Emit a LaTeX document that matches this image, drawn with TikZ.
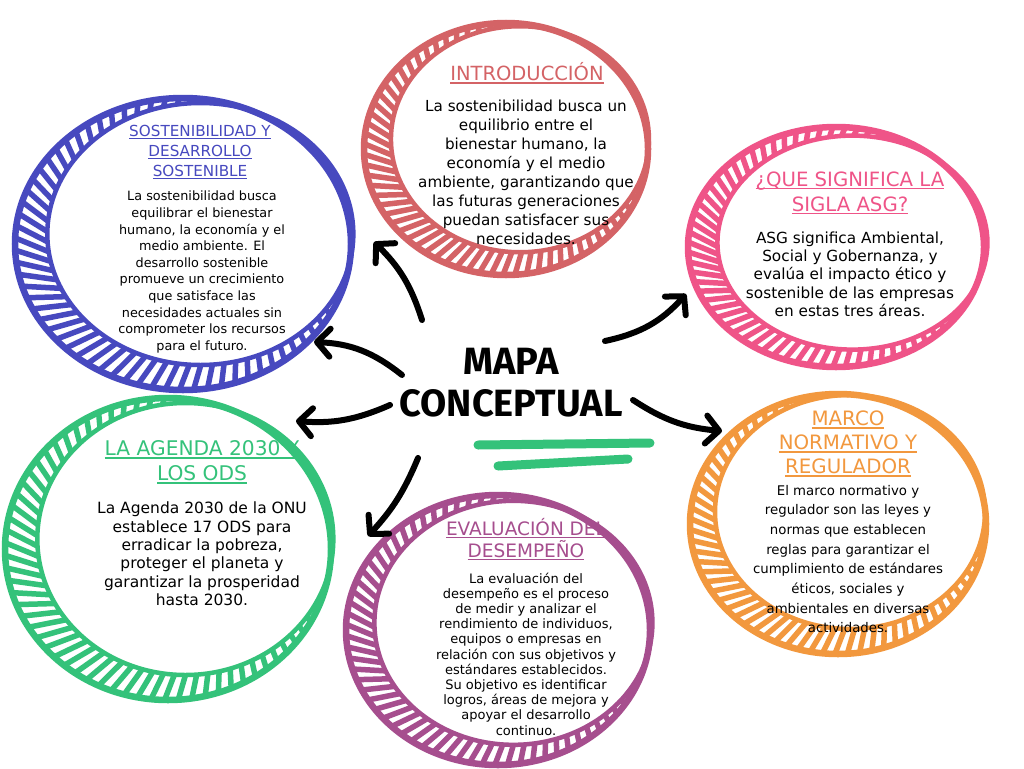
\documentclass[tikz,border=0pt]{standalone}
\usepackage{fontspec}
\setmainfont{DejaVu Sans}
\newfontfamily\titlefont{DejaVu Sans}
\newfontfamily\centerfont{Fira Sans}
\usetikzlibrary{arrows.meta,calc}
\definecolor{cblue}{HTML}{4749BF}
\definecolor{cred}{HTML}{D46366}
\definecolor{cpink}{HTML}{EF5488}
\definecolor{corange}{HTML}{F2983E}
\definecolor{cgreen}{HTML}{34C27A}
\definecolor{cpurple}{HTML}{A64E8E}
\newlength\tulw
\newcommand\tul[1]{\leavevmode\settowidth\tulw{#1}\rlap{#1}\raisebox{-3pt}{\rule{\tulw}{1.4pt}}}
% #1 colour, #2 #3 outer centre, #4 #5 outer radii, #6 shift direction (visual angle), #7 shift, #8 radius reduction
\newcommand\ring[8]{%
 \pgfmathsetmacro\rgcx{#2+#7*cos(#6)}%
 \pgfmathsetmacro\rgcy{#3-#7*sin(#6)}%
 \pgfmathsetmacro\rgrx{#4-#8}%
 \pgfmathsetmacro\rgry{#5-#8}%
 \begin{scope}
  \clip (#2,#3) ellipse [x radius=#4, y radius=#5];
  \foreach \a in {0,4.8,...,356}{
    \draw[#1, line width=5.5] ($(#2,#3)+({#4*cos(\a)},{#5*sin(\a)})$) ++(\a+200:70) -- ++(\a+20:100);
  }
 \end{scope}
 \fill[white] (\rgcx,\rgcy) ellipse [x radius=\rgrx, y radius=\rgry];
 \draw[#1, line width=6.5] (#2,#3) ellipse [x radius=#4, y radius=#5];
 \draw[#1, line width=4.5] (\rgcx,\rgcy) ellipse [x radius=\rgrx, y radius=\rgry];
}
\tikzset{
  ttl/.style={align=center, inner sep=0pt},
  bodytxt/.style={align=center, inner sep=0pt, text=black},
  arr/.style={line width=6, line cap=round, black,
    -{Straight Barb[length=13pt, width=28pt, round]}},
  hl/.style={cgreen, line width=9, line cap=round}
}
\begin{document}
\begin{tikzpicture}[x=1pt, y=-1pt]
\useasboundingbox (0,0) rectangle (1024,768);
\fill[white] (0,0) rectangle (1024,768);

% rings
\ring{cblue}{183}{244}{168}{146}{30}{20}{15}
\ring{cred}{506}{149}{142}{126}{35}{17}{13}
\ring{cpink}{836}{247}{148}{120}{15}{17}{13}
\ring{corange}{838}{524}{148}{130}{45}{17}{13}
\ring{cgreen}{168}{549}{163}{151}{30}{20}{15}
\ring{cpurple}{498}{630}{152}{135}{25}{17}{13}
\coordinate (cB) at (183,244); \coordinate (cR) at (506,149);
\coordinate (cP) at (836,247); \coordinate (cO) at (838,524);
\coordinate (cG) at (168,549); \coordinate (cV) at (498,630);

% center
\node[font=\centerfont\bfseries\fontsize{38}{42}\selectfont, align=center, inner sep=0pt] (center) at (511,383) {MAPA\\CONCEPTUAL};
\coordinate (g1a) at (478,445); \coordinate (g1b) at (650,443);
\coordinate (g2a) at (498,466); \coordinate (g2b) at (628,459);
\draw[hl] (g1a) -- (g1b);
\draw[hl] (g2a) -- (g2b);

% titles
\node[ttl, text=cblue, font=\titlefont\fontsize{15.2}{20}\selectfont] (t1) at (200,152) {\tul{SOSTENIBILIDAD Y}\\\tul{DESARROLLO}\\\tul{SOSTENIBLE}};
\node[ttl, text=cred, font=\titlefont\fontsize{19.5}{24}\selectfont] (t2) at (527,73) {\tul{INTRODUCCIÓN}};
\node[ttl, text=cpink, font=\titlefont\fontsize{19.7}{25}\selectfont] (t3) at (850,193) {\tul{¿QUE SIGNIFICA LA}\\\tul{SIGLA ASG?}};
\node[ttl, text=corange, font=\titlefont\fontsize{19.8}{24}\selectfont] (t4) at (848,444) {\tul{MARCO}\\\tul{NORMATIVO Y}\\\tul{REGULADOR}};
\node[ttl, text=cgreen, font=\titlefont\fontsize{20.2}{25}\selectfont] (t5) at (202,462) {\tul{LA AGENDA 2030 Y}\\\tul{LOS ODS}};
\node[ttl, text=cpurple, font=\titlefont\fontsize{18.5}{22}\selectfont] (t6) at (526,539) {\tul{EVALUACIÓN DEL}\\\tul{DESEMPEÑO}};

% bodies
\node[bodytxt, font=\fontsize{12.8}{16.6}\selectfont] (b1) at (202,272) {La sostenibilidad busca\\equilibrar el bienestar\\humano, la economía y el\\medio ambiente. El\\desarrollo sostenible\\promueve un crecimiento\\que satisface las\\necesidades actuales sin\\comprometer los recursos\\para el futuro.};
\node[bodytxt, font=\fontsize{15.2}{19}\selectfont] (b2) at (526,172) {La sostenibilidad busca un\\equilibrio entre el\\bienestar humano, la\\economía y el medio\\ambiente, garantizando que\\las futuras generaciones\\puedan satisfacer sus\\necesidades.};
\node[bodytxt, font=\fontsize{15.3}{18.3}\selectfont] (b3) at (850,274) {ASG significa Ambiental,\\Social y Gobernanza, y\\evalúa el impacto ético y\\sostenible de las empresas\\en estas tres áreas.};
\node[bodytxt, font=\fontsize{13.3}{19.7}\selectfont] (b4) at (848,559) {El marco normativo y\\regulador son las leyes y\\normas que establecen\\reglas para garantizar el\\cumplimiento de estándares\\éticos, sociales y\\ambientales en diversas\\actividades.};
\node[bodytxt, font=\fontsize{15.5}{18.4}\selectfont] (b5) at (202,554) {La Agenda 2030 de la ONU\\establece 17 ODS para\\erradicar la pobreza,\\proteger el planeta y\\garantizar la prosperidad\\hasta 2030.};
\node[bodytxt, font=\fontsize{13}{15.2}\selectfont] (b6) at (526,654) {La evaluación del\\desempeño es el proceso\\de medir y analizar el\\rendimiento de individuos,\\equipos o empresas en\\relación con sus objetivos y\\estándares establecidos.\\Su objetivo es identificar\\logros, áreas de mejora y\\apoyar el desarrollo\\continuo.};

% arrows
\coordinate (s1) at (402,375); \coordinate (e1) at (314,342);
\coordinate (s2) at (422,320); \coordinate (e2) at (374,242);
\coordinate (s3) at (605,341); \coordinate (e3) at (686,294);
\coordinate (s4) at (633,400); \coordinate (e4) at (722,431);
\coordinate (s5) at (390,405); \coordinate (e5) at (296,421);
\coordinate (s6) at (418,458); \coordinate (e6) at (368,536);
\draw[arr] (s1) to[bend right=18] (e1);
\draw[arr] (s2) to[bend right=14] (e2);
\draw[arr] (s3) to[bend right=18] (e3);
\draw[arr] (s4) to[bend right=14] (e4);
\draw[arr] (s5) to[bend left=14] (e5);
\draw[arr] (s6) to[bend left=10] (e6);
\end{tikzpicture}
\end{document}
